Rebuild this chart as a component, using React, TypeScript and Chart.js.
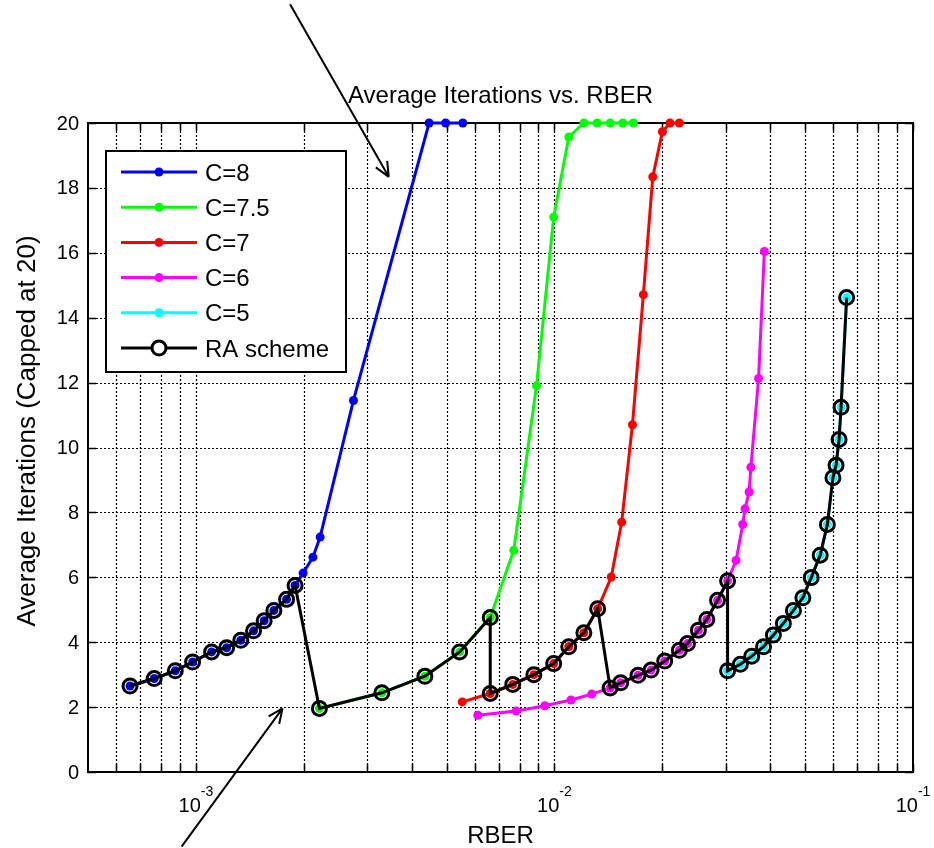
import React, { useEffect, useRef } from 'react';
import { Chart, registerables } from 'chart.js';

Chart.register(...registerables);

// ---------- data ----------
const c8X = [6.55e-4, 7.65e-4, 8.76e-4, 9.79e-4, 1.106e-3, 1.218e-3, 1.334e-3, 1.448e-3, 1.55e-3, 1.65e-3, 1.79e-3, 1.89e-3, 1.99e-3, 2.12e-3, 2.22e-3, 2.75e-3, 4.47e-3, 4.97e-3, 5.55e-3];
const c8Y = [2.65, 2.88, 3.12, 3.39, 3.70, 3.83, 4.06, 4.35, 4.66, 4.98, 5.32, 5.75, 6.13, 6.62, 7.24, 11.45, 20, 20, 20];

const c75X = [2.21e-3, 3.30e-3, 4.35e-3, 5.44e-3, 6.62e-3, 7.70e-3, 8.91e-3, 9.95e-3, 1.096e-2, 1.208e-2, 1.315e-2, 1.43e-2, 1.55e-2, 1.66e-2];
const c75Y = [1.96, 2.44, 2.95, 3.70, 4.76, 6.83, 11.9, 17.1, 19.57, 20, 20, 20, 20, 20];

const c7X = [5.53e-3, 6.62e-3, 7.65e-3, 8.76e-3, 9.95e-3, 1.096e-2, 1.208e-2, 1.32e-2, 1.44e-2, 1.54e-2, 1.65e-2, 1.77e-2, 1.88e-2, 2.0e-2, 2.10e-2, 2.23e-2];
const c7Y = [2.16, 2.42, 2.70, 3.00, 3.34, 3.86, 4.29, 5.03, 6.01, 7.70, 10.70, 14.71, 18.34, 19.73, 20, 20];

const c6X = [6.11e-3, 7.82e-3, 9.40e-3, 1.112e-2, 1.27e-2, 1.43e-2, 1.53e-2, 1.71e-2, 1.86e-2, 2.03e-2, 2.23e-2, 2.35e-2, 2.52e-2, 2.66e-2, 2.85e-2, 3.04e-2, 3.21e-2, 3.35e-2, 3.40e-2, 3.49e-2, 3.53e-2, 3.71e-2, 3.85e-2];
const c6Y = [1.75, 1.88, 2.04, 2.22, 2.40, 2.59, 2.75, 2.98, 3.14, 3.42, 3.75, 3.96, 4.37, 4.70, 5.29, 5.89, 6.52, 7.63, 8.11, 8.63, 9.39, 12.13, 16.04];

const c5X = [3.04e-2, 3.30e-2, 3.55e-2, 3.83e-2, 4.08e-2, 4.35e-2, 4.64e-2, 4.93e-2, 5.20e-2, 5.51e-2, 5.77e-2, 5.98e-2, 6.10e-2, 6.22e-2, 6.30e-2, 6.53e-2];
const c5Y = [3.12, 3.32, 3.57, 3.86, 4.22, 4.58, 4.98, 5.37, 5.99, 6.68, 7.63, 9.07, 9.45, 10.25, 11.24, 14.62];

const raX = [
  6.55e-4, 7.65e-4, 8.76e-4, 9.79e-4, 1.106e-3, 1.218e-3, 1.334e-3, 1.448e-3, 1.55e-3, 1.65e-3, 1.79e-3, 1.89e-3,
  2.21e-3, 3.30e-3, 4.35e-3, 5.44e-3, 6.62e-3,
  6.62e-3, 7.65e-3, 8.76e-3, 9.95e-3, 1.096e-2, 1.208e-2, 1.32e-2,
  1.43e-2, 1.53e-2, 1.71e-2, 1.86e-2, 2.03e-2, 2.23e-2, 2.35e-2, 2.52e-2, 2.66e-2, 2.85e-2, 3.04e-2,
  3.04e-2, 3.30e-2, 3.55e-2, 3.83e-2, 4.08e-2, 4.35e-2, 4.64e-2, 4.93e-2, 5.20e-2, 5.51e-2, 5.77e-2, 5.98e-2, 6.10e-2, 6.22e-2, 6.30e-2, 6.53e-2,
];
const raY = [
  2.65, 2.88, 3.12, 3.39, 3.70, 3.83, 4.06, 4.35, 4.66, 4.98, 5.32, 5.75,
  1.96, 2.44, 2.95, 3.70, 4.76,
  2.42, 2.70, 3.00, 3.34, 3.86, 4.29, 5.03,
  2.59, 2.75, 2.98, 3.14, 3.42, 3.75, 3.96, 4.37, 4.70, 5.29, 5.89,
  3.12, 3.32, 3.57, 3.86, 4.22, 4.58, 4.98, 5.37, 5.99, 6.68, 7.63, 9.07, 9.45, 10.25, 11.24, 14.62,
];

const seriesNames = ['C=8', 'C=7.5', 'C=7', 'C=6', 'C=5', 'RA scheme'];
const seriesColors = ['#0000ff', '#00ff00', '#ff0000', '#ff00ff', '#00ffff', '#000000'];

const yTicks = [0, 2, 4, 6, 8, 10, 12, 14, 16, 18, 20];
const xMajorTicks = [1e-3, 1e-2, 1e-1];
const xMajorExp = ['-3', '-2', '-1'];
const xMinorTicks = [
  6e-4, 7e-4, 8e-4, 9e-4,
  2e-3, 3e-3, 4e-3, 5e-3, 6e-3, 7e-3, 8e-3, 9e-3,
  2e-2, 3e-2, 4e-2, 5e-2, 6e-2, 7e-2, 8e-2, 9e-2,
];

// annotation arrows, in data coordinates: [fromX, fromY, toX, toY]
const arrowUpper = [1.83e-3, 23.66, 3.45e-3, 18.34];
const arrowLower = [9.12e-4, -2.3, 1.744e-3, 1.96];

const titleText = 'Average Iterations vs. RBER';
const xTitle = 'RBER';
const yTitle = 'Average Iterations (Capped at 20)';

const FONT = '"Liberation Sans", Arial, Helvetica, sans-serif';

function pts(xs: number[], ys: number[]) {
  return xs.map((x, i) => ({ x, y: ys[i] }));
}

const decorPlugin = {
  id: 'decor',
  beforeDatasetsDraw(chart: any) {
    const { ctx, chartArea: a, scales } = chart;
    const xs = scales.x, ys = scales.y;
    ctx.save();
    // dotted grid
    ctx.strokeStyle = '#000';
    ctx.lineWidth = 1.2;
    ctx.setLineDash([2, 2]);
    ctx.beginPath();
    [...xMinorTicks, ...xMajorTicks].forEach((v) => {
      const px = Math.round(xs.getPixelForValue(v)) + 0.5;
      if (px > a.left + 1 && px < a.right - 1) {
        ctx.moveTo(px, a.top);
        ctx.lineTo(px, a.bottom);
      }
    });
    yTicks.forEach((v) => {
      const py = Math.round(ys.getPixelForValue(v)) + 0.5;
      if (py > a.top + 1 && py < a.bottom - 1) {
        ctx.moveTo(a.left, py);
        ctx.lineTo(a.right, py);
      }
    });
    ctx.stroke();
    ctx.setLineDash([]);
    // inward tick marks
    ctx.lineWidth = 1.5;
    ctx.beginPath();
    [...xMinorTicks, ...xMajorTicks].forEach((v) => {
      const px = Math.round(xs.getPixelForValue(v)) + 0.5;
      ctx.moveTo(px, a.bottom);
      ctx.lineTo(px, a.bottom - 8);
      ctx.moveTo(px, a.top);
      ctx.lineTo(px, a.top + 8);
    });
    yTicks.forEach((v) => {
      const py = Math.round(ys.getPixelForValue(v)) + 0.5;
      ctx.moveTo(a.left, py);
      ctx.lineTo(a.left + 8, py);
      ctx.moveTo(a.right, py);
      ctx.lineTo(a.right - 8, py);
    });
    ctx.stroke();
    // box
    ctx.lineWidth = 2;
    ctx.strokeRect(a.left, a.top, a.right - a.left, a.bottom - a.top);
    ctx.restore();
  },
  afterDraw(chart: any) {
    const { ctx, chartArea: a, scales } = chart;
    const xs = scales.x, ys = scales.y;
    ctx.save();
    ctx.fillStyle = '#000';
    // y tick labels
    ctx.font = `20px ${FONT}`;
    ctx.textAlign = 'right';
    ctx.textBaseline = 'middle';
    yTicks.forEach((v) => {
      ctx.fillText(String(v), a.left - 9, ys.getPixelForValue(v) + 1);
    });
    // x tick labels 10^n
    ctx.textBaseline = 'alphabetic';
    ctx.textAlign = 'left';
    xMajorTicks.forEach((v, i) => {
      const px = xs.getPixelForValue(v);
      ctx.font = `20px ${FONT}`;
      const w1 = ctx.measureText('10').width;
      ctx.font = `14px ${FONT}`;
      const w2 = ctx.measureText(xMajorExp[i]).width;
      const x0 = px - (w1 + w2) / 2;
      ctx.font = `20px ${FONT}`;
      ctx.fillText('10', x0, a.bottom + 40);
      ctx.font = `14px ${FONT}`;
      ctx.fillText(xMajorExp[i], x0 + w1, a.bottom + 24);
    });
    // title & axis titles
    ctx.font = `24px ${FONT}`;
    ctx.textAlign = 'center';
    ctx.fillText(titleText, (a.left + a.right) / 2, a.top - 20);
    ctx.fillText(xTitle, (a.left + a.right) / 2, a.bottom + 71);
    ctx.save();
    ctx.font = `26px ${FONT}`;
    ctx.translate(35, 431);
    ctx.rotate(-Math.PI / 2);
    ctx.fillText(yTitle, 0, 0);
    ctx.restore();

    // legend
    const lx = 106, ly = 151, lw = 240, lh = 221;
    ctx.fillStyle = '#fff';
    ctx.fillRect(lx, ly, lw, lh);
    ctx.strokeStyle = '#000';
    ctx.lineWidth = 2;
    ctx.strokeRect(lx, ly, lw, lh);
    ctx.font = `24px ${FONT}`;
    ctx.textAlign = 'left';
    ctx.textBaseline = 'middle';
    seriesNames.forEach((name, i) => {
      const ry = 172 + i * 35.2;
      const col = seriesColors[i];
      ctx.strokeStyle = col;
      ctx.lineWidth = 3;
      ctx.beginPath();
      ctx.moveTo(121, ry);
      ctx.lineTo(197, ry);
      ctx.stroke();
      if (i < 5) {
        ctx.fillStyle = col;
        ctx.beginPath();
        ctx.arc(159, ry, 4.5, 0, Math.PI * 2);
        ctx.fill();
      } else {
        ctx.beginPath();
        ctx.arc(159, ry, 7, 0, Math.PI * 2);
        ctx.fillStyle = '#fff';
        ctx.fill();
        ctx.stroke();
      }
      ctx.fillStyle = '#000';
      ctx.fillText(name, 205, ry + 2);
    });

    // arrows
    const drawArrow = (arr: number[]) => {
      const x1 = xs.getPixelForValue(arr[0]);
      const y1 = ys.getPixelForValue(arr[1]);
      const x2 = xs.getPixelForValue(arr[2]);
      const y2 = ys.getPixelForValue(arr[3]);
      const ang = Math.atan2(y2 - y1, x2 - x1);
      ctx.strokeStyle = '#000';
      ctx.lineWidth = 2;
      ctx.beginPath();
      ctx.moveTo(x1, y1);
      ctx.lineTo(x2, y2);
      const hl = 16, ha = 0.42;
      ctx.moveTo(x2, y2);
      ctx.lineTo(x2 - hl * Math.cos(ang - ha), y2 - hl * Math.sin(ang - ha));
      ctx.moveTo(x2, y2);
      ctx.lineTo(x2 - hl * Math.cos(ang + ha), y2 - hl * Math.sin(ang + ha));
      ctx.stroke();
    };
    drawArrow(arrowUpper);
    drawArrow(arrowLower);
    ctx.restore();
  },
};

export default function App() {
  const ref = useRef<HTMLCanvasElement | null>(null);
  useEffect(() => {
    document.body.style.margin = '0';
    document.body.style.overflow = 'hidden';
    const canvas = ref.current;
    if (!canvas) return;
    const xsArr = [c8X, c75X, c7X, c6X, c5X];
    const ysArr = [c8Y, c75Y, c7Y, c6Y, c5Y];
    const datasets: any[] = xsArr.map((xs, i) => ({
      label: seriesNames[i],
      data: pts(xs, ysArr[i]),
      showLine: true,
      borderColor: seriesColors[i],
      backgroundColor: seriesColors[i],
      borderWidth: 3,
      pointRadius: 4.5,
      pointBorderWidth: 0,
      pointBackgroundColor: seriesColors[i],
      tension: 0,
      clip: false,
      order: 1,
    }));
    datasets.push({
      label: seriesNames[5],
      data: pts(raX, raY),
      showLine: true,
      borderColor: '#000',
      backgroundColor: 'rgba(0,0,0,0)',
      borderWidth: 3,
      pointRadius: 7,
      pointBorderWidth: 3,
      pointBorderColor: '#000',
      pointBackgroundColor: 'rgba(0,0,0,0)',
      tension: 0,
      clip: false,
      order: 0,
    });
    const chart = new Chart(canvas, {
      type: 'scatter',
      data: { datasets },
      options: {
        animation: false,
        responsive: false,
        devicePixelRatio: 1,
        layout: { padding: { left: 88, right: 21, top: 123, bottom: 76 } },
        plugins: { legend: { display: false }, tooltip: { enabled: false }, title: { display: false } },
        scales: {
          x: { type: 'logarithmic', min: 5e-4, max: 0.1, display: false },
          y: { type: 'linear', min: 0, max: 20, display: false },
        },
      },
      plugins: [decorPlugin],
    });
    return () => chart.destroy();
  }, []);
  return <canvas ref={ref} width={934} height={848} style={{ display: 'block' }} />;
}
